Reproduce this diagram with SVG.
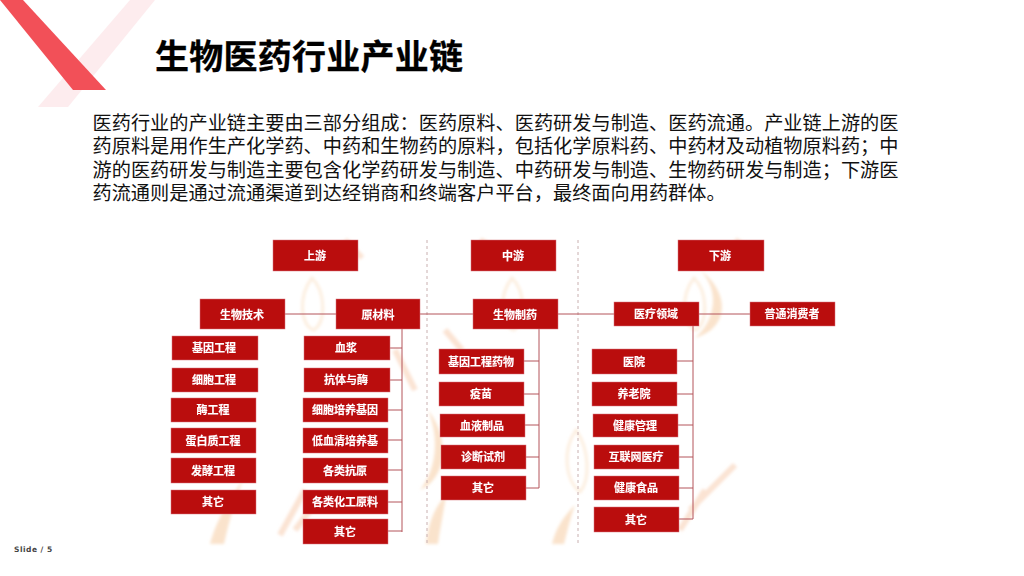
<svg xmlns="http://www.w3.org/2000/svg" width="1024" height="576" viewBox="0 0 1024 576">
<style>
.b{fill:#BA0A10;stroke:#D8797C;stroke-width:.5}
.t{fill:#fff;font:bold 11px "Noto Sans CJK SC","Liberation Sans",sans-serif;text-anchor:middle;stroke:#fff;stroke-width:.15}
.c{fill:none;stroke:#B4545B;stroke-width:1}
.d{fill:none;stroke:#C9B0B0;stroke-width:1;stroke-dasharray:3 3}
.body{fill:#111;font:19.2px "Noto Sans CJK SC","Liberation Sans",sans-serif}
.wm{fill:#FAE3CC}
.wm2{fill:none;stroke:#FCEEDF;stroke-width:3}
.wm3{fill:none;stroke:#FBE3D3;stroke-width:6}
</style>
<defs><filter id="soft" x="-5%" y="-5%" width="110%" height="110%"><feGaussianBlur stdDeviation="0.5"/></filter>
<filter id="wb"><feGaussianBlur stdDeviation="1.6"/></filter></defs>
<rect width="1024" height="576" fill="#fff"/>
<g id="decoration">
<polygon points="130,0 155,0 68,107 38,107" fill="#FDECEE"/>
<polygon points="0,0 23,0 106,90 73,90" fill="#F25058"/>
</g>
<text id="title" x="155" y="69" font-family="'Noto Sans CJK SC','Liberation Sans',sans-serif" font-weight="700" font-size="34" fill="#000" stroke="#000" stroke-width=".3" textLength="308" lengthAdjust="spacing">生物医药行业产业链</text>
<g id="paragraph">
<text class="body" x="92.5" y="129.5" textLength="806">医药行业的产业链主要由三部分组成：医药原料、医药研发与制造、医药流通。产业链上游的医</text>
<text class="body" x="92.5" y="153" textLength="806">药原料是用作生产化学药、中药和生物药的原料，包括化学原料药、中药材及动植物原料药；中</text>
<text class="body" x="92.5" y="176.5" textLength="806">游的医药研发与制造主要包含化学药研发与制造、中药研发与制造、生物药研发与制造；下游医</text>
<text class="body" x="92.5" y="200">药流通则是通过流通渠道到达经销商和终端客户平台，最终面向用药群体。</text>
</g>
<g id="watermark" filter="url(#wb)">
<path class="wm2" d="M312 278C298 296 300 326 314 330C326 322 326 292 312 278Z"/>
<path class="wm2" d="M512 278C498 296 500 326 514 330C526 322 526 292 512 278Z"/>
<path class="wm2" d="M694 278C680 296 682 326 696 330C708 322 708 292 694 278Z"/>
<path class="wm2" d="M576 430C562 450 565 480 580 492C590 480 590 450 576 430Z"/>
<path class="wm" d="M700 270C720 290 716 320 695 338C730 328 730 292 700 270Z"/>
<path class="wm" d="M428 410C440 440 436 470 420 490C445 480 452 440 428 410Z"/>
<path class="wm" d="M243 480C225 505 215 525 210 544L224 544C228 525 235 500 243 480Z"/>
<path class="wm" d="M446 495C432 510 428 528 426 544L438 544C440 528 444 510 446 495Z"/>
<path class="wm" d="M575 505C560 520 555 532 552 544L564 544C567 532 570 518 575 505Z"/>
<path class="wm3" d="M345 240L362 258M395 350L415 390M445 330L462 350M480 240L500 252M735 240L750 250"/>
<path class="wm3" d="M280 535L305 490M295 530L322 495M690 510L735 465M680 530L705 490"/>
</g>
<g id="connectors">
<path class="d" d="M427 240V544M578 240V544"/>
<path class="c" d="M285 314H336M420 314H473M558 314H614M699 314H750"/>
<path class="c" d="M402 329V532M390 348H402M390 380H402M388 410H402M388 440H402M388 470H402M388 502H402M388 531H402"/>
<path class="c" d="M539 329V488M524 361H539M524 394H539M525 425H539M526 457H539M526 488H539"/>
<path class="c" d="M693 326V519M677 361H693M677 394H693M678 425H693M679 457H693M679 488H693M679 519H693"/>
</g>
<g id="nodes" filter="url(#soft)">
<g id="n-shangyou"><rect class="b" x="273" y="240" width="85" height="31"/><text class="t" x="315" y="260">上游</text></g>
<g id="n-zhongyou"><rect class="b" x="471" y="240" width="85" height="31"/><text class="t" x="513" y="260">中游</text></g>
<g id="n-xiayou"><rect class="b" x="678" y="240" width="86" height="31"/><text class="t" x="720" y="260">下游</text></g>
<g id="n-shengwujishu"><rect class="b" x="200" y="299" width="85" height="30"/><text class="t" x="242" y="319">生物技术</text></g>
<g id="n-yuancailiao"><rect class="b" x="336" y="299" width="84" height="30"/><text class="t" x="378" y="319">原材料</text></g>
<g id="n-shengwuzhiyao"><rect class="b" x="473" y="299" width="85" height="30"/><text class="t" x="515" y="319">生物制药</text></g>
<g id="n-yiliao"><rect class="b" x="614" y="302" width="85" height="24"/><text class="t" x="656" y="318">医疗领域</text></g>
<g id="n-xiaofeizhe"><rect class="b" x="750" y="302" width="85" height="24"/><text class="t" x="792" y="318">普通消费者</text></g>
<g id="a1"><rect class="b" x="172" y="336" width="86" height="24"/><text class="t" x="214" y="352">基因工程</text></g>
<g id="a2"><rect class="b" x="172" y="368" width="86" height="24"/><text class="t" x="214" y="384">细胞工程</text></g>
<g id="a3"><rect class="b" x="171" y="398" width="85" height="24"/><text class="t" x="213" y="414">酶工程</text></g>
<g id="a4"><rect class="b" x="171" y="428" width="85" height="25"/><text class="t" x="213" y="445">蛋白质工程</text></g>
<g id="a5"><rect class="b" x="171" y="458" width="85" height="25"/><text class="t" x="213" y="475">发酵工程</text></g>
<g id="a6"><rect class="b" x="171" y="490" width="85" height="24"/><text class="t" x="213" y="506">其它</text></g>
<g id="b1"><rect class="b" x="304" y="336" width="86" height="24"/><text class="t" x="346" y="352">血浆</text></g>
<g id="b2"><rect class="b" x="304" y="368" width="86" height="24"/><text class="t" x="346" y="384">抗体与酶</text></g>
<g id="b3"><rect class="b" x="303" y="398" width="85" height="24"/><text class="t" x="345" y="414">细胞培养基因</text></g>
<g id="b4"><rect class="b" x="303" y="428" width="85" height="25"/><text class="t" x="345" y="445">低血清培养基</text></g>
<g id="b5"><rect class="b" x="303" y="458" width="85" height="25"/><text class="t" x="345" y="475">各类抗原</text></g>
<g id="b6"><rect class="b" x="303" y="490" width="85" height="24"/><text class="t" x="345" y="506">各类化工原料</text></g>
<g id="b7"><rect class="b" x="303" y="519" width="85" height="25"/><text class="t" x="345" y="536">其它</text></g>
<g id="c1"><rect class="b" x="439" y="349" width="85" height="25"/><text class="t" x="481" y="366">基因工程药物</text></g>
<g id="c2"><rect class="b" x="439" y="382" width="85" height="24"/><text class="t" x="481" y="398">疫苗</text></g>
<g id="c3"><rect class="b" x="440" y="414" width="85" height="23"/><text class="t" x="482" y="430">血液制品</text></g>
<g id="c4"><rect class="b" x="441" y="445" width="85" height="24"/><text class="t" x="483" y="461">诊断试剂</text></g>
<g id="c5"><rect class="b" x="441" y="476" width="85" height="24"/><text class="t" x="483" y="492">其它</text></g>
<g id="d1"><rect class="b" x="592" y="349" width="85" height="25"/><text class="t" x="634" y="366">医院</text></g>
<g id="d2"><rect class="b" x="592" y="382" width="85" height="24"/><text class="t" x="634" y="398">养老院</text></g>
<g id="d3"><rect class="b" x="593" y="414" width="85" height="23"/><text class="t" x="635" y="430">健康管理</text></g>
<g id="d4"><rect class="b" x="594" y="445" width="85" height="24"/><text class="t" x="636" y="461">互联网医疗</text></g>
<g id="d5"><rect class="b" x="594" y="476" width="85" height="24"/><text class="t" x="636" y="492">健康食品</text></g>
<g id="d6"><rect class="b" x="594" y="507" width="85" height="25"/><text class="t" x="636" y="524">其它</text></g>
</g>
<text id="footer" x="14" y="552" font-family="'DejaVu Sans','Liberation Sans',sans-serif" font-weight="700" font-size="7.5" letter-spacing=".5" fill="#444">Slide / 5</text>
</svg>
